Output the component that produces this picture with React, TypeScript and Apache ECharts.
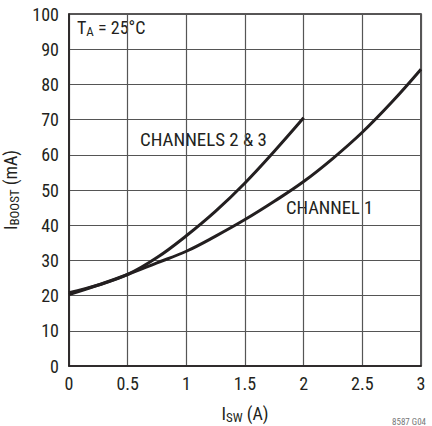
import React, { useEffect, useRef } from "react";
import * as echarts from "echarts";

const xValues = [0, 0.25, 0.5, 0.75, 1, 1.25, 1.5, 1.75, 2, 2.25, 2.5, 2.75, 3];
const channel1 = [20.3, 23.0, 26.0, 29.3, 32.6, 36.9, 41.6, 46.8, 52.4, 59.0, 66.4, 74.9, 84.3];
const channels23X = [0, 0.25, 0.5, 0.75, 1, 1.25, 1.5, 1.75, 2];
const channels23 = [20.8, 23.0, 26.0, 30.8, 37.0, 44.0, 52.0, 61.0, 70.5];
const xTicks = [0, 0.5, 1, 1.5, 2, 2.5, 3];

const FONT = "'Liberation Sans Narrow', 'Roboto Condensed', Roboto, 'Liberation Sans', sans-serif";
const INK = "#231f20";

export default function App() {
  const ref = useRef<HTMLDivElement>(null);
  useEffect(() => {
    if (!ref.current) return;
    const chart = echarts.init(ref.current, null, { renderer: "svg" });
    const lineStyle = { color: INK, width: 3 };
    const richMain = { fontFamily: FONT, fontSize: 18, color: INK };
    const richSub = { fontFamily: FONT, fontSize: 13, color: INK, padding: [9, 0, 0, 0] };
    chart.setOption({
      animation: false,
      backgroundColor: "#ffffff",
      textStyle: { fontFamily: FONT, color: INK },
      grid: {
        left: 69,
        top: 14,
        width: 352,
        height: 352,
        show: true,
        borderColor: INK,
        borderWidth: 1.5,
        containLabel: false,
        outerBoundsMode: "none",
      },
      xAxis: {
        type: "value",
        min: 0,
        max: 3,
        interval: 0.5,
        axisLine: { show: true, lineStyle: { color: INK, width: 1.5 } },
        axisTick: { show: false },
        splitLine: { show: true, lineStyle: { color: "#555", width: 1.2 } },
        axisLabel: {
          fontFamily: FONT,
          fontSize: 18,
          color: INK,
          margin: 8,
          formatter: (v: number) => (xTicks.includes(v) ? String(v) : ""),
        },
        name: "{main|I}{sub|SW}{main| (A)}",
        nameLocation: "middle",
        nameGap: 36,
        nameTextStyle: { fontFamily: FONT, rich: { main: richMain, sub: richSub } },
      },
      yAxis: {
        type: "value",
        min: 0,
        max: 100,
        interval: 10,
        axisLine: { show: true, lineStyle: { color: INK, width: 1.5 } },
        axisTick: { show: false },
        splitLine: { show: true, lineStyle: { color: "#555", width: 1.2 } },
        axisLabel: { fontFamily: FONT, fontSize: 18, color: INK, margin: 10 },
        name: "{main|I}{sub|BOOST}{main| (mA)}",
        nameLocation: "middle",
        nameRotate: 90,
        nameGap: 46,
        nameTextStyle: { fontFamily: FONT, rich: { main: richMain, sub: richSub } },
      },
      series: [
        {
          name: "CHANNEL 1",
          type: "line",
          smooth: 0.4,
          symbol: "none",
          lineStyle,
          data: xValues.map((x, i) => [x, channel1[i]]),
        },
        {
          name: "CHANNELS 2 & 3",
          type: "line",
          smooth: 0.4,
          symbol: "none",
          lineStyle,
          data: channels23X.map((x, i) => [x, channels23[i]]),
        },
      ],
      graphic: [
        {
          type: "text",
          left: 77,
          top: 18,
          style: {
            text: "{main|T}{sub|A}{main| = 25°C}",
            fontFamily: FONT,
            rich: {
              main: { fontFamily: FONT, fontSize: 18, fill: INK },
              sub: { fontFamily: FONT, fontSize: 13, fill: INK, padding: [9, 0, 0, 0] },
            },
          },
        },
        {
          type: "text",
          left: 140,
          top: 131,
          scaleX: 1.05,
          style: { text: "CHANNELS 2 & 3", fontFamily: FONT, fontSize: 18, fill: INK },
        },
        {
          type: "text",
          left: 286,
          top: 199,
          scaleX: 1.03,
          style: { text: "CHANNEL 1", fontFamily: FONT, fontSize: 18, fill: INK },
        },
        {
          type: "text",
          left: 392,
          top: 417,
          style: { text: "8587 G04", fontFamily: FONT, fontSize: 9, fill: "#777" },
        },
      ],
    });
    return () => chart.dispose();
  }, []);
  return (
    <div
      ref={ref}
      style={{ position: "fixed", left: 0, top: 0, width: 432, height: 426, background: "#fff" }}
    />
  );
}
